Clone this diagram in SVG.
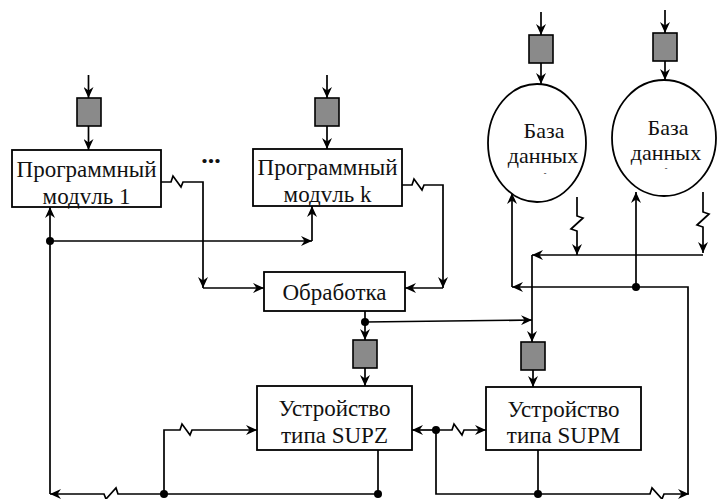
<svg xmlns="http://www.w3.org/2000/svg" width="717" height="499" viewBox="0 0 717 499">
<style>
.box{fill:#fff;stroke:#000;stroke-width:1.8}
.reg{fill:#8a8a8a;stroke:#000;stroke-width:1.6}
.w{fill:none;stroke:#000;stroke-width:1.7}
.a{marker-end:url(#ah)}
text{font-family:'Liberation Serif','DejaVu Serif',serif;fill:#111;text-anchor:middle}
.t{font-size:23px}
.tc{font-size:22px}
.dot{fill:#000}
</style>
<defs>
<marker id="ah" markerUnits="userSpaceOnUse" markerWidth="12" markerHeight="10" refX="11" refY="5" orient="auto" viewBox="0 0 12 10">
<path d="M0,0 L11,5 L0,10 L3.5,5 z" fill="#000"/>
</marker>
</defs>
<g id="connectors">
<line class="w a" x1="88.5" y1="75" x2="88.5" y2="98"/>
<line class="w a" x1="88.5" y1="126" x2="88.5" y2="150"/>
<line class="w a" x1="327" y1="75" x2="327" y2="98"/>
<line class="w a" x1="327" y1="126" x2="327" y2="149"/>
<line class="w a" x1="541" y1="12" x2="541" y2="35"/>
<line class="w a" x1="541" y1="63" x2="541" y2="84"/>
<line class="w a" x1="665" y1="10" x2="665" y2="33"/>
<line class="w a" x1="665" y1="61" x2="665" y2="80"/>
<path class="w a" d="M161,182 H171 L173,176 L181,187 L183,182 H203 V288"/>
<line class="w a" x1="203" y1="288" x2="264" y2="288"/>
<path class="w a" d="M402,185 H412 L414,179 L422,190 L424,185 H443 V288"/>
<line class="w a" x1="443" y1="288" x2="405" y2="288"/>
<line class="w a" x1="50" y1="241" x2="50" y2="207"/>
<line class="w a" x1="50" y1="241" x2="312" y2="241"/>
<line class="w a" x1="312" y1="241" x2="312" y2="206"/>
<line class="w" x1="50" y1="241" x2="50" y2="494"/>
<line class="w" x1="378" y1="450" x2="378" y2="494"/>
<path class="w a" d="M378,494 H118 L116,488 L106,499 L104,494 H50"/>
<path class="w a" d="M164,494 V430 H180 L182,424 L190,435 L192,430 H257"/>
<line class="w a" x1="365" y1="311" x2="365" y2="340"/>
<line class="w a" x1="365" y1="368" x2="365" y2="386"/>
<line class="w a" x1="365" y1="322" x2="532" y2="320"/>
<path class="w a" d="M577,197 V216 L583,218 L571,229 L577,231 V255"/>
<path class="w a" d="M703,192 V212 L709,214 L697,225 L703,227 V253"/>
<line class="w a" x1="703" y1="255" x2="532" y2="255"/>
<line class="w a" x1="532" y1="255" x2="532" y2="342"/>
<line class="w a" x1="533" y1="370" x2="533" y2="387"/>
<line class="w a" x1="636" y1="287" x2="636" y2="192"/>
<line class="w a" x1="636" y1="287" x2="512" y2="287"/>
<line class="w a" x1="512" y1="287" x2="512" y2="193"/>
<path class="w" d="M636,287 H688 V494"/>
<line class="w a" x1="436" y1="430" x2="412" y2="430"/>
<path class="w a" d="M436,430 H452 L454,424 L462,435 L464,430 H486"/>
<line class="w" x1="538" y1="450" x2="538" y2="494"/>
<path class="w a" d="M436,430 V494 H650 L652,488 L662,499 L664,494 H689"/>
<circle class="dot" cx="50" cy="241" r="4"/>
<circle class="dot" cx="164" cy="494" r="4"/>
<circle class="dot" cx="378" cy="494" r="4"/>
<circle class="dot" cx="365" cy="322" r="4"/>
<circle class="dot" cx="636" cy="287" r="4"/>
<circle class="dot" cx="436" cy="430" r="4"/>
<circle class="dot" cx="538" cy="494" r="4"/>
</g>
<g id="reg-pm1"><rect class="reg" x="77" y="98" width="24" height="28"/></g>
<g id="reg-pmk"><rect class="reg" x="315" y="98" width="24" height="28"/></g>
<g id="reg-db1"><rect class="reg" x="529" y="35" width="24" height="28"/></g>
<g id="reg-db2"><rect class="reg" x="653" y="33" width="24" height="28"/></g>
<g id="reg-supz"><rect class="reg" x="353" y="340" width="24" height="28"/></g>
<g id="reg-supm"><rect class="reg" x="521" y="342" width="24" height="28"/></g>
<g id="pm1">
<rect class="box" x="12" y="150" width="149" height="57"/>
<text class="t" x="86.5" y="177">Программный</text>
<text class="t" x="86.5" y="204">модvль 1</text>
</g>
<g id="ellipsis"><text x="211" y="163" font-size="26" font-weight="bold">...</text></g>
<g id="pmk">
<rect class="box" x="253" y="149" width="149" height="57"/>
<text class="t" x="327.5" y="175">Программный</text>
<text class="t" x="327.5" y="202">модvль k</text>
</g>
<g id="processing">
<rect class="box" x="264" y="272" width="141" height="39"/>
<text class="t" x="334.5" y="300">Обработка</text>
</g>
<g id="db1">
<ellipse class="box" cx="537" cy="143" rx="49" ry="59"/>
<text class="tc" x="544" y="138">База</text>
<text class="tc" x="543" y="163">данных</text>
<text x="545" y="176" font-size="8">-</text>
</g>
<g id="db2">
<ellipse class="box" cx="664" cy="138" rx="52" ry="58"/>
<text class="tc" x="668" y="135">База</text>
<text class="tc" x="666" y="160">данных</text>
<text x="666" y="171" font-size="8">-</text>
</g>
<g id="supz">
<rect class="box" x="257" y="386" width="155" height="64"/>
<text class="t" x="334.5" y="416">Устройство</text>
<text class="t" x="334.5" y="443">типа SUPZ</text>
</g>
<g id="supm">
<rect class="box" x="486" y="387" width="155" height="63"/>
<text class="t" x="563.5" y="417">Устройство</text>
<text class="t" x="563.5" y="443">типа SUPM</text>
</g>
</svg>
